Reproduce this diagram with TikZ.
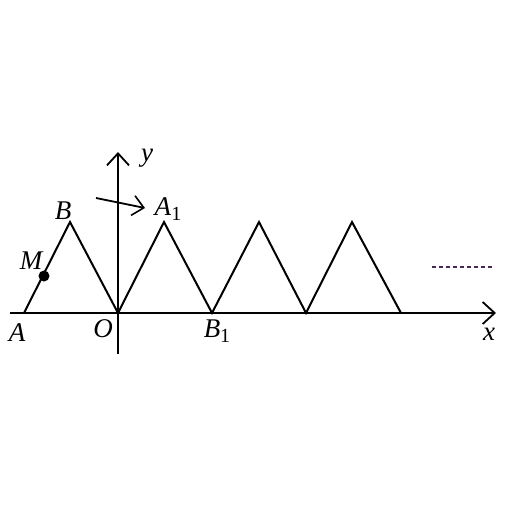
\documentclass[tikz,border=0pt]{standalone}
\usepackage{fontspec}
\setmainfont{Liberation Serif}
\usetikzlibrary{arrows.meta}
\begin{document}
\begin{tikzpicture}[x=1pt,y=-1pt,
  ln/.style={line width=2pt, line join=miter},
  ax/.style={line width=2pt, -{Straight Barb[length=12pt,width=22pt,line width=1.8pt]}},
  lab/.style={font=\fontsize{27}{30}\selectfont\itshape, inner sep=0pt}]
\useasboundingbox (0,0) rectangle (512,512);
\fill[white] (0,0) rectangle (512,512);
% points
\coordinate (A) at (24,313);
\coordinate (B) at (70,222);
\coordinate (O) at (118,313);
\coordinate (A1) at (164,222);
\coordinate (B1) at (212,313);
\coordinate (P2) at (259,222);
\coordinate (Q2) at (306,313);
\coordinate (P3) at (352,222);
\coordinate (Q3) at (401,313);
\coordinate (xs) at (10,313);
\coordinate (xe) at (496,313);
\coordinate (ys) at (118,354);
\coordinate (ye) at (118,152);
\coordinate (ars) at (96,198);
\coordinate (are) at (145,208);
\coordinate (M) at (44,276);
\coordinate (d1) at (432,267);
\coordinate (d2) at (493,267);
% axes
\draw[ax] (xs) -- (xe);
\draw[ax] (ys) -- (ye);
% triangles
\draw[ln] (A) -- (B) -- (O) -- (A1) -- (B1) -- (P2) -- (Q2) -- (P3) -- (Q3);
% rotation arrow
\draw[line width=1.8pt, -{Straight Barb[length=11pt,width=20pt,line width=1.6pt]}] (ars) -- (are);
% point M
\fill (M) circle (5.5);
% dashed
\draw[line width=1.2pt, dash pattern=on 4pt off 3pt, color={rgb,255:red,70;green,40;blue,90}] (d1) -- (d2);
% labels
\node[lab] (ly) at (147,158) {y};
\node[lab] (lB) at (63,211) {B};
\node[lab] (lA1) at (168,209) {A\textup{\fontsize{20}{22}\selectfont\raisebox{-5pt}{1}}};
\node[lab] (lM) at (31,261) {M};
\node[lab] (lA) at (17,333) {A};
\node[lab] (lO) at (103,329) {O};
\node[lab] (lB1) at (217,331) {B\textup{\fontsize{20}{22}\selectfont\raisebox{-5pt}{1}}};
\node[lab] (lx) at (489,334) {x};
\end{tikzpicture}
\end{document}
